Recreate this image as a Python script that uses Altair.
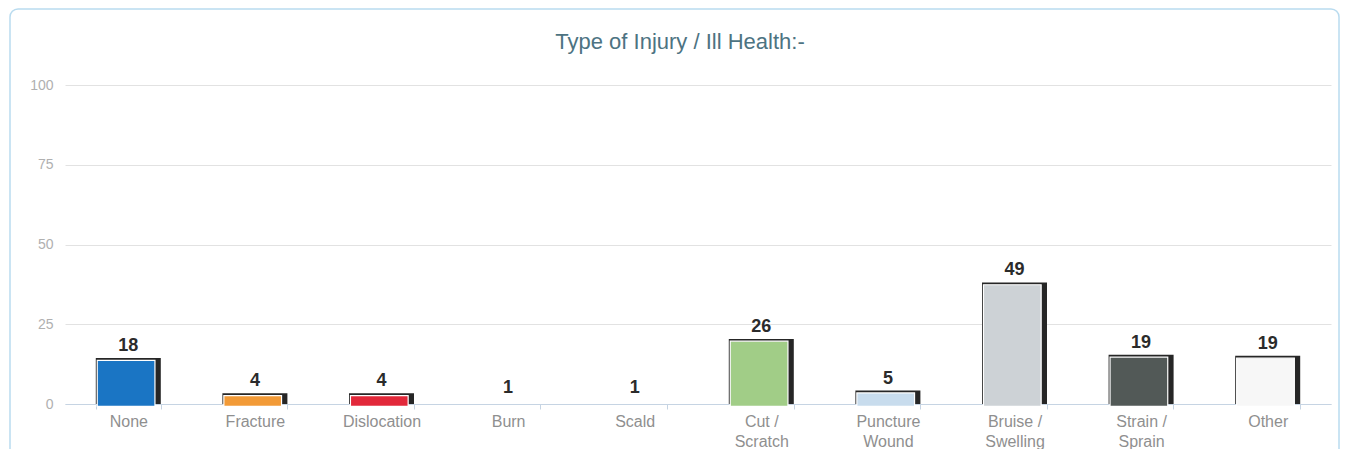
import altair as alt
import pandas as pd

# ---- data ----
categories = ["None", "Fracture", "Dislocation", "Burn", "Scald",
              "Cut /\nScratch", "Puncture\nWound", "Bruise /\nSwelling",
              "Strain /\nSprain", "Other"]
counts = [18, 4, 4, 1, 1, 26, 5, 49, 19, 19]            # printed data labels
bar_heights = [14.4, 3.35, 3.35, 1.2, 1.2, 20.4, 4.2, 38.1, 15.4, 15.1]  # drawn heights on the axis
colors = ["#1a75c4", "#f29a37", "#e2283a", "#ffffff", "#ffffff",
          "#a1cd87", "#c8dced", "#cdd2d6", "#525957", "#f7f7f7"]
y_ticks = [0, 25, 50, 75, 100]
title_text = "Type of Injury / Ill Health:-"

df = pd.DataFrame({"cat": categories, "h": bar_heights, "n": counts, "col": colors})

W, H = 1266, 319
FONT = "Liberation Sans"

x_enc = alt.X("cat:N", sort=categories, title=None,
              scale=alt.Scale(paddingInner=0.49, paddingOuter=0.245),
              axis=alt.Axis(labelAngle=0, labelFont=FONT, labelFontSize=16,
                            labelColor="#8f8f8f", labelLineHeight=20,
                            labelExpr="split(datum.label, '\\n')",
                            labelPadding=4, tickSize=5, tickColor="#c6d4e3",
                            tickBand="extent", domainColor="#c6d4e3",
                            domainWidth=1.2, grid=False))
y_enc = alt.Y("h:Q", title=None,
              scale=alt.Scale(domain=[0, 100], nice=False),
              axis=alt.Axis(values=y_ticks, labelFont=FONT, labelFontSize=14,
                            labelColor="#b0b0b0", labelPadding=12,
                            domain=False, ticks=False, gridColor="#e2e2e2",
                            gridWidth=1))

base = alt.Chart(df)

shadow = base.mark_bar(width=65, color="#262626", y2Offset=-1).encode(
    x=x_enc, y=y_enc,
    opacity=alt.condition(alt.datum.h >= 2, alt.value(1), alt.value(0)),
)

fill = base.mark_bar(width=57.7, xOffset=-2.2, yOffset=2.3, y2Offset=-3,
                     stroke="#ffffff", strokeWidth=1.2).encode(
    x=alt.X("cat:N", sort=categories),
    y=alt.Y("h:Q"),
    color=alt.Color("col:N", scale=None),
    opacity=alt.condition(alt.datum.h >= 2, alt.value(1), alt.value(0)),
)

labels = base.mark_text(dy=-7, baseline="alphabetic", font=FONT, fontSize=18,
                        fontWeight="bold", color="#2b2b2b").encode(
    x=alt.X("cat:N", sort=categories),
    y=alt.Y("h:Q"),
    text=alt.Text("n:Q"),
)

frame = alt.Chart(pd.DataFrame({"k": [0]})).mark_rect(
    fill="transparent", stroke="#b9dbef", strokeWidth=1.5, cornerRadius=8
).encode(
    x=alt.value(-55), x2=alt.value(W + 8),
    y=alt.value(-76), y2=alt.value(H + 90),
)

chart = alt.layer(frame, shadow, fill, labels).properties(
    width=W, height=H,
    background="white",
    autosize=alt.AutoSizeParams(type="none"),
    padding={"left": 57, "top": 77, "right": 9, "bottom": 45},
    title=alt.TitleParams(title_text, font=FONT, fontSize=22, fontWeight="normal",
                          color="#4d7382", anchor="middle", frame="group",
                          baseline="alphabetic", dx=-18, offset=-63),
).configure_view(strokeWidth=0, stroke=None)

chart.save("out.html", embed_options={"renderer": "svg", "actions": False})
